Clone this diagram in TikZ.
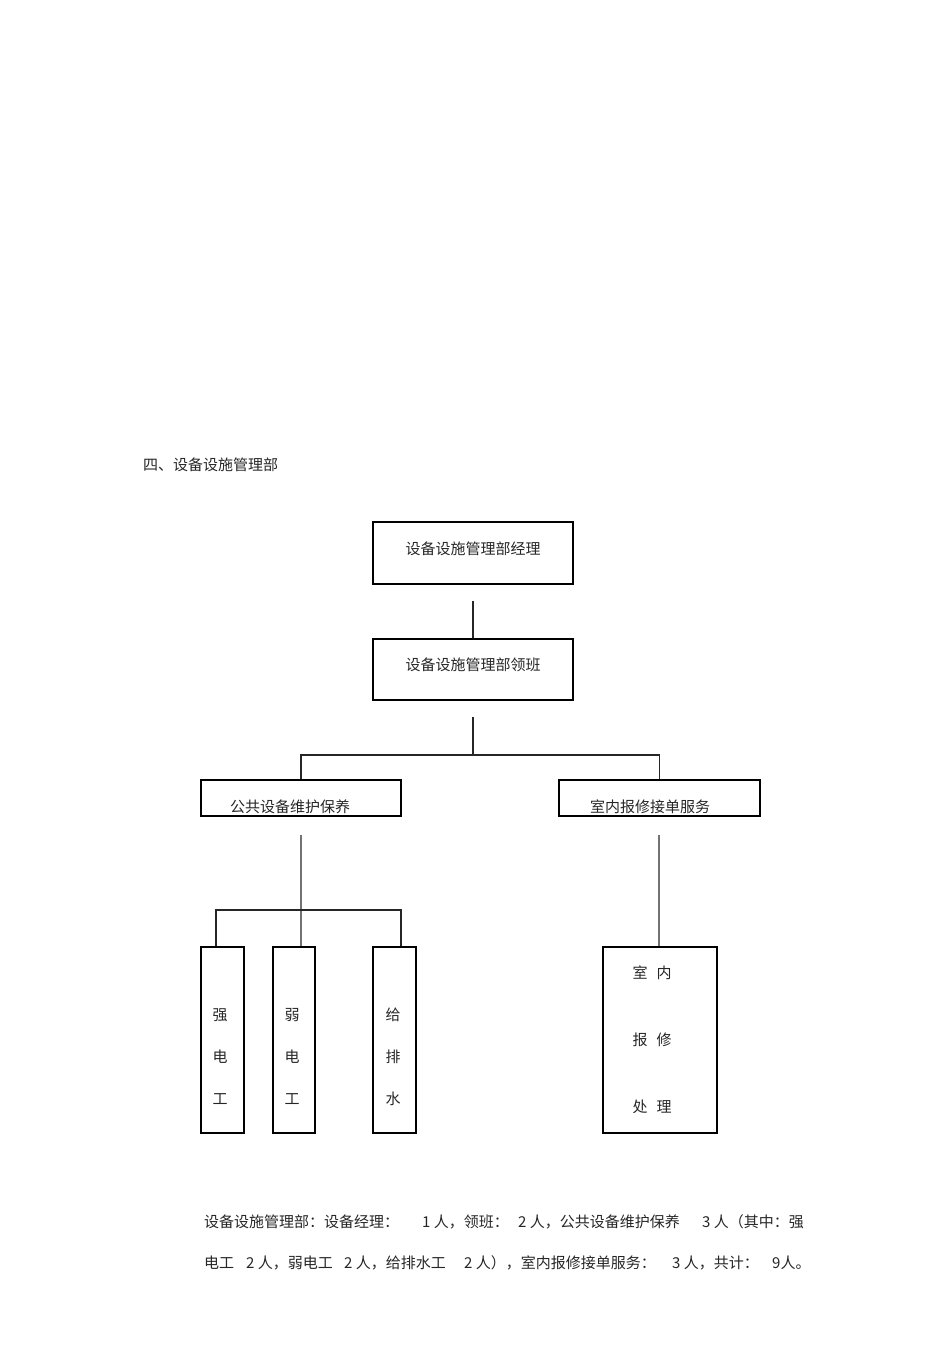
\documentclass[tikz,border=0pt]{standalone}
\usepackage{fontspec}
\setmainfont{Noto Sans CJK SC}
\begin{document}
\begin{tikzpicture}[x=1pt,y=-1pt,
  box/.style={draw=black,line width=1.1pt,inner sep=0pt},
  txt/.style={inner sep=0pt,font=\fontsize{15}{16}\selectfont,text=black!85},
  link/.style={line width=1.1pt,draw=black!85},
  glink/.style={line width=1.1pt,draw=black!55}]
\useasboundingbox (0,0) rectangle (950,1345);
% title
\node[txt,anchor=west] (title) at (143,465) {四、设备设施管理部};
% boxes
\node[box,minimum width=200pt,minimum height=62pt] (b1) at (473,553) {};
\node[txt] (t1) at (473,549) {设备设施管理部经理};
\node[box,minimum width=200pt,minimum height=61pt] (b2) at (473,669.5) {};
\node[txt] (t2) at (473,665) {设备设施管理部领班};
\node[box,minimum width=200pt,minimum height=36pt] (b3) at (301,798) {};
\node[txt,anchor=west] (t3) at (230,807) {公共设备维护保养};
\node[box,minimum width=201pt,minimum height=36pt] (b4) at (659.5,798) {};
\node[txt,anchor=west] (t4) at (590,807) {室内报修接单服务};
\node[box,minimum width=43pt,minimum height=186pt] (c1) at (222.5,1040) {};
\node[box,minimum width=42pt,minimum height=186pt] (c2) at (294,1040) {};
\node[box,minimum width=43pt,minimum height=186pt] (c3) at (394.5,1040) {};
\node[box,minimum width=114pt,minimum height=186pt] (c4) at (660,1040) {};
% vertical texts
\foreach \n/\x/\a/\b/\c in {s1/220/强/电/工, s2/292/弱/电/工, s3/393/给/排/水}{
  \node[txt] (\n a) at (\x,1015) {\a};
  \node[txt] (\n b) at (\x,1057) {\b};
  \node[txt] (\n c) at (\x,1099) {\c};
}
\node[txt] (r1) at (652,973) {室\hspace{9pt}内};
\node[txt] (r2) at (652,1040) {报\hspace{9pt}修};
\node[txt] (r3) at (652,1107) {处\hspace{9pt}理};
% connectors
\coordinate (p1) at (473,601);
\coordinate (p2) at (473,717);
\coordinate (p3) at (473,755);
\coordinate (p4) at (301,835);
\coordinate (p5) at (301,910);
\coordinate (p6) at (659,835);
\draw[link] (p1) -- (b2.north);
\draw[link] (p2) -- (p3);
\draw[link] (b3.north) |- (p3) -| (b4.north);
\draw[glink] (p4) -- (p4 |- c2.north);
\draw[link] (c1.north -| 216,0) |- (p5) -| (c3.north -| 401,0);
\draw[glink] (p6) -- (c4.north -| p6);
% bottom text
\node[txt,anchor=west] (a1) at (204,1222) {设备设施管理部：设备经理：};
\node[txt,anchor=west] (a2) at (422,1222) {1 人，领班：};
\node[txt,anchor=west] (a3) at (518,1222) {2 人，公共设备维护保养};
\node[txt,anchor=west] (a4) at (702,1222) {3 人（其中：强};
\node[txt,anchor=west] (d1) at (204,1263) {电工};
\node[txt,anchor=west] (d2) at (246,1263) {2 人，弱电工};
\node[txt,anchor=west] (d3) at (344,1263) {2 人，给排水工};
\node[txt,anchor=west] (d4) at (464,1263) {2 人），室内报修接单服务：};
\node[txt,anchor=west] (d5) at (672,1263) {3 人，共计：};
\node[txt,anchor=west] (d6) at (772,1263) {9人。};
\end{tikzpicture}
\end{document}
